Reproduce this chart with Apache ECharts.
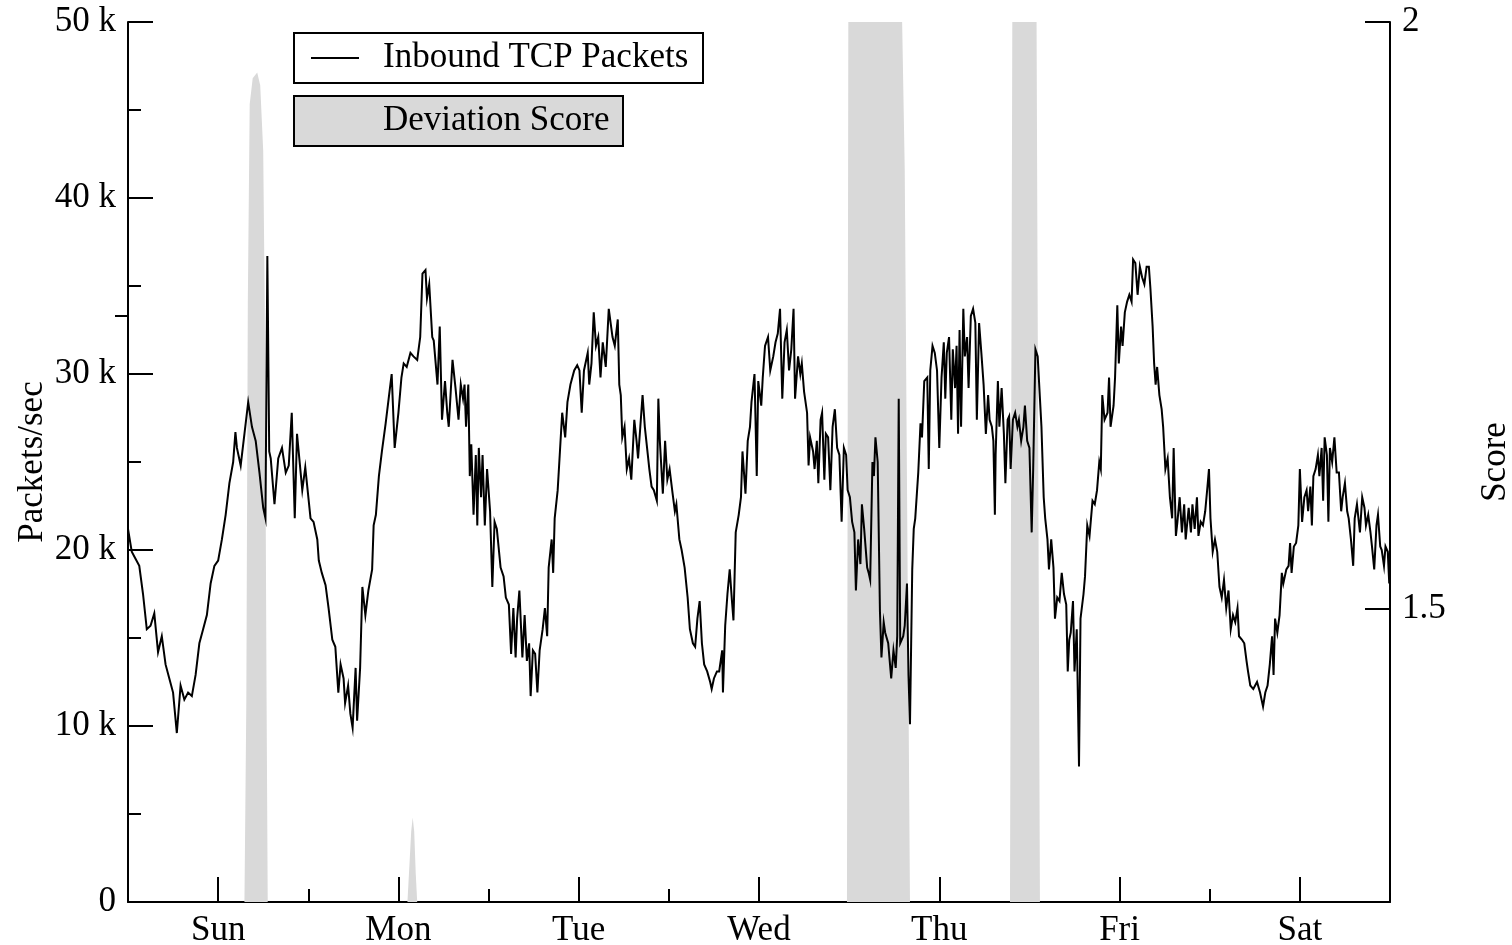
<!DOCTYPE html>
<html>
<head>
<meta charset="utf-8">
<script src="https://cdn.jsdelivr.net/npm/echarts@6/dist/echarts.min.js"></script>
<style>
  html, body { margin: 0; padding: 0; background: #fff; overflow: hidden; }
  #chart { width: 1512px; height: 945px; }
</style>
</head>
<body>
<div id="chart"></div>
<script>
// Week of inbound TCP traffic (thousand packets/sec) against hour of the week,
// one list of [hour, kpps] readings per day.
const dayLabels = ['Sun', 'Mon', 'Tue', 'Wed', 'Thu', 'Fri', 'Sat'];
const packetTickLabels = ['0', '10 k', '20 k', '30 k', '40 k', '50 k'];
const scoreTickLabels = ['1.5', '2'];

const tcpSun = [
  [0,21.2],[0.5,19.9],[1,19.5],[1.5,19.1],[2,17.5],[2.5,15.5],[3,15.7],[3.5,16.4],[4,14.2],[4.5,15.1],
  [5,13.5],[5.5,12.7],[6,11.9],[6.5,9.6],[7,12.3],[7.5,11.5],[8,11.9],[8.5,11.7],[9,12.9],[9.5,14.7],
  [10,15.5],[10.5,16.3],[11,18.1],[11.5,19.1],[12,19.4],[12.5,20.6],[13,22.0],[13.5,23.8],[14,25.0],[14.3,26.7],
  [14.5,25.8],[15,24.8],[15.5,26.6],[16,28.4],[16.5,27.0],[17,26.2],[17.5,24.4],[18,22.4],[18.3,21.8],[18.55,36.7],
  [18.8,25.6],[19,25.2],[19.5,22.6],[20,25.2],[20.5,25.8],[21,24.4],[21.4,24.8],[21.8,27.8],[22.2,21.8],[22.5,26.6],
  [23.2,23.4],[23.6,24.7]
];
const tcpMon = [
  [24.3,21.8],[24.7,21.6],[25.2,20.6],[25.4,19.4],[25.8,18.7],[26.3,18.0],[26.7,16.7],[27.2,14.9],[27.6,14.5],[28.0,11.9],
  [28.3,13.5],[28.7,12.7],[28.9,11.3],[29.3,12.3],[29.6,10.7],[29.9,9.9],[30.3,13.3],[30.5,10.3],[30.9,13.3],[31.2,17.9],
  [31.6,16.3],[32.0,17.7],[32.5,18.9],[32.7,21.4],[33.0,22.0],[33.4,24.2],[33.8,25.6],[34.3,27.2],[34.7,28.6],[35.1,30.0],
  [35.5,25.8],[36.0,27.8],[36.4,29.8],[36.7,30.6],[37.1,30.4],[37.6,31.2],[38.0,31.0],[38.5,30.8],[38.9,32.1],[39.2,35.7],
  [39.6,35.9],[39.8,34.3],[40.1,35.1],[40.5,32.1],[40.7,31.9],[41.2,29.4],[41.5,32.7],[41.8,27.4],[42.2,29.6],[42.5,27.8],
  [42.7,27.0],[43.2,30.8],[43.6,29.2],[44.0,27.4],[44.3,29.4],[44.6,28.6],[44.8,29.4],[45.0,27.0],[45.3,29.4],[45.5,24.2],
  [45.7,26.0],[46.0,22.0],[46.3,25.4],[46.5,21.4],[46.7,25.8],[47.0,23.0],[47.2,25.4],[47.5,21.4],[47.8,24.6]
];
const tcpTue = [
  [48.2,22.2],[48.5,17.9],[48.8,21.6],[49.1,21.2],[49.6,19.0],[50.0,18.5],[50.3,17.3],[50.7,16.9],[51.0,14.1],[51.3,16.7],
  [51.6,13.9],[51.8,16.1],[52.1,17.7],[52.5,13.9],[52.8,16.3],[53.1,13.7],[53.4,14.7],[53.6,11.7],[53.9,14.3],[54.2,14.1],
  [54.5,11.9],[54.8,14.3],[55.2,15.5],[55.5,16.7],[55.8,15.1],[56.0,19.0],[56.4,20.6],[56.6,18.7],[56.8,21.8],[57.2,23.4],
  [57.5,25.6],[57.8,27.8],[58.2,26.4],[58.5,28.4],[58.9,29.4],[59.4,30.2],[59.8,30.5],[60.1,30.2],[60.4,27.8],[60.7,30.2],
  [61.2,31.2],[61.4,29.4],[61.7,30.6],[62.0,33.5],[62.3,31.6],[62.6,32.1],[62.9,29.8],[63.2,31.8],[63.6,30.4],[64.0,33.7],
  [64.5,32.1],[64.8,31.6],[65.2,33.1],[65.4,29.4],[65.6,28.8],[65.8,26.4],[66.1,27.0],[66.4,24.6],[66.7,25.2],[67.0,24.0],
  [67.4,27.4],[67.7,26.2],[67.9,25.2],[68.2,27.0],[68.5,28.8],[68.8,27.0],[69.2,25.4],[69.4,24.6],[69.7,23.6],[70.0,23.4],
  [70.4,22.8],[70.6,28.6],[70.8,26.2],[71.2,23.2],[71.5,26.2],[71.8,24.0]
];
const tcpWed = [
  [72.1,24.6],[72.5,23.2],[72.8,22.2],[73.0,22.6],[73.4,20.6],[73.7,20.0],[74.1,19.0],[74.5,17.3],[74.8,15.5],[75.2,14.7],
  [75.5,14.5],[75.8,16.1],[76.1,17.1],[76.4,14.7],[76.7,13.5],[77.1,13.1],[77.5,12.5],[77.7,12.1],[78.0,12.7],[78.4,13.1],
  [78.7,13.1],[79.1,14.3],[79.2,11.9],[79.5,15.7],[79.8,17.5],[80.1,18.9],[80.4,17.1],[80.6,16.0],[80.9,21.0],[81.3,22.0],
  [81.6,23.0],[81.8,25.6],[82.2,23.2],[82.5,26.2],[82.8,27.0],[83.0,28.4],[83.4,30.0],[83.7,24.2],[83.9,29.6],[84.3,28.2],
  [84.5,29.8],[84.8,31.6],[85.2,32.1],[85.5,30.2],[85.9,31.0],[86.2,31.8],[86.5,32.3],[86.8,33.7],[87.1,28.6],[87.4,31.8],
  [87.7,32.5],[88.0,30.2],[88.3,31.4],[88.6,33.7],[88.8,28.6],[89.2,31.0],[89.5,30.0],[89.7,30.6],[90.0,29.0],[90.4,27.8],
  [90.6,24.8],[90.8,26.4],[91.2,25.6],[91.4,24.6],[91.7,26.2],[91.9,23.8],[92.2,27.4],[92.4,27.8],[92.7,24.0],[92.9,26.6],
  [93.2,26.4],[93.5,23.4],[93.8,27.0],[94.1,28.0],[94.4,25.8],[94.7,25.4],[95.0,21.6],[95.3,25.8],[95.6,25.4],[95.8,23.4]
];
const tcpThu = [
  [96.1,23.0],[96.4,21.6],[96.7,21.0],[96.9,17.7],[97.2,20.6],[97.5,19.2],[97.7,22.6],[98.0,21.2],[98.4,19.0],[98.6,18.7],
  [98.8,18.3],[99.1,25.0],[99.3,24.2],[99.5,26.4],[99.8,25.0],[100.1,16.5],[100.3,13.9],[100.6,15.9],[100.8,15.3],[101.2,14.7],
  [101.4,13.7],[101.6,12.7],[101.9,14.3],[102.2,13.3],[102.4,15.1],[102.6,28.6],[102.8,14.7],[103.2,15.1],[103.4,15.7],[103.7,18.1],
  [103.9,12.9],[104.1,10.1],[104.4,18.9],[104.6,21.2],[104.8,21.8],[105.2,24.4],[105.5,27.2],[105.7,26.4],[106.0,29.6],[106.4,29.8],
  [106.6,24.6],[106.8,30.2],[107.1,31.6],[107.4,31.2],[107.7,30.2],[108.0,25.8],[108.3,29.8],[108.6,31.8],[108.8,28.6],[109.0,31.2],
  [109.3,32.1],[109.6,27.4],[109.8,31.4],[110.1,29.2],[110.3,31.6],[110.5,26.6],[110.7,32.5],[110.9,27.0],[111.2,33.7],[111.4,31.0],
  [111.7,32.1],[111.9,29.2],[112.2,33.3],[112.5,33.7],[112.8,32.9],[113.0,27.4],[113.3,32.9],[113.6,31.2],[113.9,29.4],[114.2,26.6],
  [114.5,28.8],[114.7,27.4],[115.0,27.0],[115.2,26.2],[115.4,22.0],[115.5,25.4],[115.8,29.6],[116.0,27.0],[116.3,29.2],[116.6,26.6],
  [116.8,23.8],[117.1,27.4],[117.3,27.6],[117.5,24.6],[117.8,27.4],[118.1,27.8],[118.4,27.0],[118.6,27.4],[118.9,26.2],[119.2,27.0],
  [119.4,28.2],[119.7,26.2]
];
const tcpFri = [
  [120.0,25.8],[120.3,21.0],[120.5,24.6],[120.8,31.4],[121.1,31.0],[121.4,28.6],[121.6,27.0],[121.9,23.0],[122.1,21.8],[122.4,20.6],
  [122.6,18.9],[122.9,20.6],[123.2,19.0],[123.4,16.1],[123.7,17.3],[124.0,17.1],[124.3,18.7],[124.6,17.5],[124.9,16.9],[125.1,13.1],
  [125.3,14.9],[125.5,15.3],[125.8,17.1],[126.0,13.1],[126.3,15.5],[126.6,7.7],[126.8,16.1],[127.2,17.5],[127.4,18.5],[127.7,21.4],
  [128.0,20.8],[128.4,22.8],[128.7,22.6],[129.0,23.4],[129.3,25.0],[129.5,24.6],[129.7,28.8],[130.0,27.4],[130.4,27.8],[130.6,29.8],
  [130.8,27.0],[131.2,28.2],[131.4,29.8],[131.7,33.9],[131.9,30.6],[132.2,32.7],[132.4,31.6],[132.7,33.5],[133.0,34.1],[133.3,34.5],
  [133.6,34.1],[133.8,36.5],[134.1,36.3],[134.4,34.5],[134.7,36.1],[135.0,35.5],[135.3,35.1],[135.6,36.1],[135.9,36.1],[136.1,34.9],
  [136.4,32.7],[136.6,30.6],[136.8,29.4],[137.0,30.4],[137.3,28.8],[137.6,28.0],[137.8,27.0],[138.1,24.6],[138.4,25.2],[138.7,23.0],
  [139.0,21.8],[139.2,25.8],[139.5,20.8],[139.7,21.6],[140.0,23.0],[140.3,21.0],[140.6,22.6],[140.8,20.6],[141.2,22.4],[141.5,21.0],
  [141.7,22.6],[142.0,21.2],[142.3,23.0],[142.5,20.8],[142.8,21.6],[143.1,21.4],[143.4,22.2],[143.7,23.6]
];
const tcpSat = [
  [143.9,24.6],[144.1,21.8],[144.4,19.9],[144.7,20.6],[145.0,19.9],[145.3,17.9],[145.6,17.3],[145.9,18.3],[146.2,16.7],[146.5,17.7],
  [146.8,15.5],[147.1,16.3],[147.4,15.9],[147.7,16.7],[147.9,15.1],[148.3,14.9],[148.6,14.7],[148.9,13.7],[149.1,13.1],[149.4,12.3],
  [149.8,12.1],[150.3,12.5],[150.7,11.9],[151.1,11.1],[151.4,11.9],[151.7,12.3],[152.0,13.5],[152.3,15.1],[152.5,12.9],[152.7,16.1],
  [153.0,15.3],[153.3,16.3],[153.6,18.7],[153.8,18.1],[154.2,18.9],[154.5,19.1],[154.7,20.4],[154.9,18.7],[155.2,20.2],[155.5,20.4],
  [155.8,21.4],[156.0,24.6],[156.3,21.6],[156.6,23.0],[156.9,23.4],[157.1,22.2],[157.4,23.6],[157.6,21.4],[157.8,24.2],[158.1,24.6],
  [158.4,25.4],[158.6,24.2],[158.9,25.8],[159.1,22.8],[159.3,26.4],[159.6,25.4],[159.8,21.6],[160.0,25.8],[160.3,25.0],[160.6,26.4],
  [160.9,24.4],[161.2,24.4],[161.5,22.2],[161.7,23.0],[162.0,23.8],[162.3,22.2],[162.5,21.8],[162.8,20.6],[163.1,19.1],[163.3,21.8],
  [163.6,22.6],[164.0,21.0],[164.3,23.0],[164.6,22.4],[164.8,21.4],[165.1,22.0],[165.4,21.0],[165.6,20.2],[165.9,18.9],[166.2,21.4],
  [166.4,22.0],[166.7,20.2],[166.9,20.0],[167.2,19.1],[167.4,20.2],[167.7,19.9],[167.9,18.1],[168.0,20.2]
];

// Deviation score readings [hour, score]; the score axis starts at 1.25,
// so readings at that floor leave no visible fill.
const scoreSun = [
  [0,1.25],[15.5,1.25],[15.62,1.33],[15.75,1.42],[15.95,1.76],[16.2,1.93],[16.6,1.952],[17.2,1.957],
  [17.6,1.946],[18.0,1.89],[18.2,1.76],[18.45,1.42],[18.6,1.25]
];
const scoreMon = [
  [37.2,1.25],[37.45,1.28],[37.7,1.31],[37.9,1.322],[38.1,1.31],[38.3,1.275],[38.5,1.25]
];
const scoreWedThu = [
  [95.71,1.25],[95.89,2.0],[96.5,2.3],[100.0,2.4],[102.6,2.2],[103.0,2.02],[103.4,1.874],[104.1,1.25]
];
const scoreThuFri = [
  [117.41,1.25],[117.72,2.0],[118.5,2.3],[120.0,2.3],[120.95,2.0],[121.4,1.25],[168,1.25]
];

const tcpData = [].concat(tcpSun, tcpMon, tcpTue, tcpWed, tcpThu, tcpFri, tcpSat);
const scoreData = [].concat(scoreSun, scoreMon, scoreWedThu, scoreThuFri);

const FONT = "'Liberation Serif', 'Times New Roman', serif";
const FILL = '#d9d9d9';
const INK = '#000';

const chart = echarts.init(document.getElementById('chart'), null, { renderer: 'canvas' });

const axisText = { color: INK, fontFamily: FONT, fontSize: 35 };

chart.setOption({
  animation: false,
  backgroundColor: '#fff',
  grid: { left: 128, right: 122, top: 22, bottom: 43, containLabel: false, outerBoundsMode: 'none' },
  xAxis: {
    type: 'value',
    min: 0,
    max: 168,
    interval: 24,
    axisLine: { show: true, onZero: false, lineStyle: { color: INK, width: 2 } },
    axisTick: { show: true, inside: true, length: 13, lineStyle: { color: INK, width: 2 } },
    minorTick: { show: true, splitNumber: 2, length: 25, lineStyle: { color: INK, width: 2 } },
    splitLine: { show: false },
    minorSplitLine: { show: false },
    axisLabel: {
      ...axisText,
      margin: 11,
      customValues: dayLabels.map((d, i) => 12 + 24 * i),
      formatter: v => dayLabels[Math.round((v - 12) / 24)]
    }
  },
  yAxis: [
    {
      type: 'value',
      position: 'left',
      min: 0,
      max: 50,
      interval: 10,
      name: 'Packets/sec',
      nameLocation: 'middle',
      nameRotate: 90,
      nameGap: 78,
      nameMoveOverlap: false,
      nameTextStyle: { ...axisText },
      axisLine: { show: true, onZero: false, lineStyle: { color: INK, width: 2 } },
      axisTick: { show: true, inside: true, length: 25, lineStyle: { color: INK, width: 2 } },
      minorTick: { show: true, splitNumber: 2, length: 13, lineStyle: { color: INK, width: 2 } },
      splitLine: { show: false },
      minorSplitLine: { show: false },
      axisLabel: {
        ...axisText,
        margin: 12,
        formatter: v => packetTickLabels[Math.round(v / 10)]
      }
    },
    {
      type: 'value',
      position: 'right',
      min: 1.25,
      max: 2,
      interval: 0.25,
      name: 'Score',
      nameLocation: 'middle',
      nameRotate: 90,
      nameGap: 88,
      nameMoveOverlap: false,
      nameTextStyle: { ...axisText },
      axisLine: { show: true, onZero: false, lineStyle: { color: INK, width: 2 } },
      axisTick: { show: true, inside: true, length: 25, customValues: [1.5, 2], lineStyle: { color: INK, width: 2 } },
      splitLine: { show: false },
      axisLabel: {
        ...axisText,
        margin: 12,
        customValues: [1.5, 2],
        formatter: v => scoreTickLabels[Math.round((v - 1.5) / 0.5)]
      }
    },
    {
      // short in-between tick on the score axis
      type: 'value',
      position: 'right',
      min: 1.25,
      max: 2,
      interval: 0.25,
      axisLine: { show: false },
      axisLabel: { show: false },
      splitLine: { show: false },
      axisTick: { show: true, inside: true, length: 13, customValues: [1.75], lineStyle: { color: INK, width: 2 } }
    }
  ],
  series: [
    {
      name: 'Deviation Score',
      type: 'line',
      yAxisIndex: 1,
      data: scoreData,
      showSymbol: false,
      symbol: 'none',
      clip: true,
      lineStyle: { width: 0, opacity: 0 },
      areaStyle: { color: FILL, opacity: 1, origin: 'start' },
      z: 1,
      silent: true
    },
    {
      name: 'Inbound TCP Packets',
      type: 'line',
      yAxisIndex: 0,
      data: tcpData,
      showSymbol: false,
      symbol: 'none',
      clip: true,
      lineStyle: { color: INK, width: 2, join: 'miter' },
      z: 3,
      silent: true
    }
  ],
  graphic: [
    {
      type: 'group',
      left: 293,
      top: 32,
      children: [
        { type: 'rect', shape: { x: 0, y: 0, width: 409, height: 50 }, style: { fill: '#fff', stroke: INK, lineWidth: 2 } },
        { type: 'line', shape: { x1: 17, y1: 25, x2: 65, y2: 25 }, style: { stroke: INK, lineWidth: 2 } },
        { type: 'text', x: 89, y: 25, style: { text: 'Inbound TCP Packets', fill: INK, font: '35px ' + FONT, textVerticalAlign: 'middle', verticalAlign: 'middle' } }
      ]
    },
    {
      type: 'group',
      left: 293,
      top: 95,
      children: [
        { type: 'rect', shape: { x: 0, y: 0, width: 329, height: 50 }, style: { fill: FILL, stroke: INK, lineWidth: 2 } },
        { type: 'text', x: 89, y: 25, style: { text: 'Deviation Score', fill: INK, font: '35px ' + FONT, textVerticalAlign: 'middle', verticalAlign: 'middle' } }
      ]
    }
  ]
});
</script>
</body>
</html>
